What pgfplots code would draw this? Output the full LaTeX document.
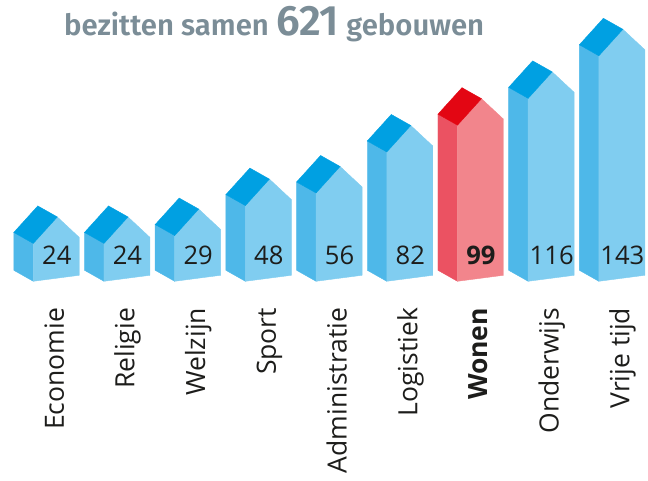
\documentclass[border=0pt]{standalone}
\usepackage{pgfplots}
\pgfplotsset{compat=1.18}
\usepackage{fontspec}
\setmainfont{Open Sans}
\newfontfamily\titlefont{Fira Sans SemiBold}
\definecolor{bF}{HTML}{80CDF0}
\definecolor{bS}{HTML}{4EB8E9}
\definecolor{bR}{HTML}{00A0E2}
\definecolor{rF}{HTML}{F2858C}
\definecolor{rS}{HTML}{EB5262}
\definecolor{rR}{HTML}{E30613}
\definecolor{txt}{HTML}{1D1D1B}
\definecolor{ttl}{HTML}{7B8D97}

\pgfplotsset{
  house/.style n args={4}{%
    scatter, only marks, mark=*, mark size=0pt,
    mark options={draw=none,fill=none},
    point meta=explicit symbolic,
    visualization depends on={value \thisrow{lab} \as \lab},
    scatter/@pre marker code/.code={%
      \pgfmathsetmacro\hb{-\pgfplotspointmeta*1.577}%
      \pgfmathsetmacro\hbr{\hb+6}%
      \pgfmathsetmacro\hbs{\hb+11}%
      \pgfmathsetmacro\hn{\hb+16.3}%
      \pgfmathsetmacro\hl{\hb-26.5}%
      \fill[#2] (0pt,0pt) -- (-19.5pt,11pt) -- (-19.5pt,\hbs pt) -- (0pt,\hb pt) -- cycle;
      \fill[#1] (0pt,0pt) -- (0pt,\hb pt) -- (46pt,\hbr pt) -- (46pt,6pt) -- (24pt,26.5pt) -- cycle;
      \fill[#3] (0pt,0pt) -- (-19.5pt,11pt) -- (4.5pt,37.5pt) -- (24pt,26.5pt) -- cycle;
      \node[anchor=base, inner sep=0pt, text=txt, font={\fontsize{25.6}{30}\selectfont#4}] at (23.5pt,\hn pt) {\pgfplotspointmeta};
      \node[anchor=base east, rotate=90, inner sep=0pt, text=txt, font={\fontsize{26.5}{30}\selectfont#4}] at (30.5pt,\hl pt) {\lab};
    },
    scatter/@post marker code/.code={},
  }
}

\begin{document}
\begin{tikzpicture}
\begin{axis}[
  x=70.7pt, y=1.577pt,
  xmin=-0.471, xmax=8.695,
  ymin=-126.63, ymax=178.38,
  hide axis, clip=false,
]
\addplot[house={bF}{bS}{bR}{}] table[col sep=comma, x=x, y=v, meta=v] {
x,v,lab
0,24,Economie
1,24,Religie
2,29,Welzijn
3,48,Sport
4,56,Administratie
5,82,Logistiek
7,116,Onderwijs
8,143,Vrije tijd
};
\addplot[house={rF}{rS}{rR}{\bfseries}] table[col sep=comma, x=x, y=v, meta=v] {
x,v,lab
6,99,Wonen
};
\node[anchor=base west, inner sep=0pt, text=ttl, font=\titlefont] at (rel axis cs:0.0988,0.9272)
  {\fontsize{29.3}{34}\selectfont bezitten samen \fontsize{42.5}{46}\selectfont 621\fontsize{29.3}{34}\selectfont{} gebouwen};
\coordinate (BL) at (rel axis cs:0,0);
\coordinate (TR) at (rel axis cs:1,1);
\end{axis}
\pgfresetboundingbox
\path[use as bounding box] (BL) rectangle (TR);
\end{tikzpicture}
\end{document}
